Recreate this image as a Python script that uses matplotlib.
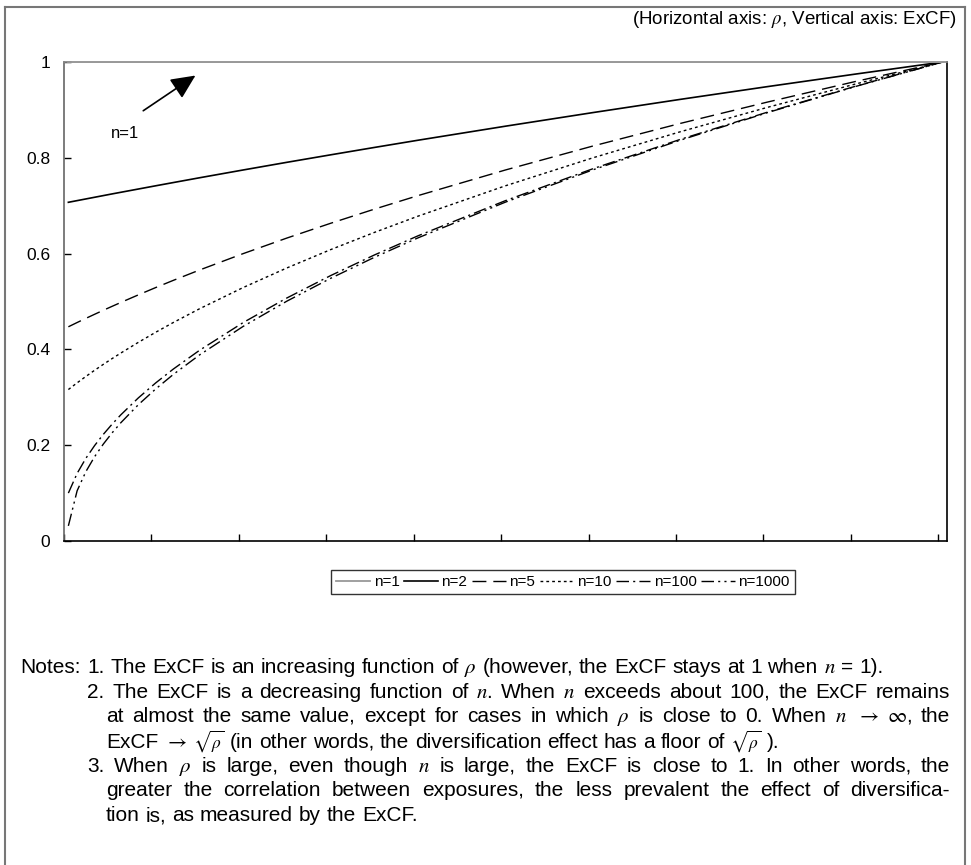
import numpy as np
import matplotlib
matplotlib.use("Agg")
import matplotlib.pyplot as plt
from matplotlib.lines import Line2D

plt.rcParams['font.family'] = ['Liberation Sans', 'DejaVu Sans']
plt.rcParams['mathtext.fontset'] = 'stix'

rho = [0, 0.01, 0.02, 0.03, 0.04, 0.05, 0.06, 0.08, 0.1, 0.12, 0.15, 0.2,
       0.25, 0.3, 0.35, 0.4, 0.5, 0.6, 0.7, 0.8, 0.9, 1.0]

excf_n1 = [1.0] * 22
excf_n2 = [0.7071, 0.7106, 0.7141, 0.7176, 0.7211, 0.7246, 0.7280, 0.7348, 0.7416, 0.7483, 0.7583,
           0.7746, 0.7906, 0.8062, 0.8216, 0.8367, 0.8660, 0.8944, 0.9220, 0.9487, 0.9747, 1.0]
excf_n5 = [0.4472, 0.4561, 0.4648, 0.4733, 0.4817, 0.4899, 0.4980, 0.5138, 0.5292, 0.5441, 0.5657,
           0.6000, 0.6325, 0.6633, 0.6928, 0.7211, 0.7746, 0.8246, 0.8718, 0.9165, 0.9592, 1.0]
excf_n10 = [0.3162, 0.3302, 0.3435, 0.3564, 0.3688, 0.3808, 0.3924, 0.4147, 0.4359, 0.4561, 0.4848,
            0.5292, 0.5701, 0.6083, 0.6442, 0.6782, 0.7416, 0.8000, 0.8544, 0.9055, 0.9539, 1.0]
excf_n100 = [0.1000, 0.1411, 0.1726, 0.1992, 0.2227, 0.2439, 0.2634, 0.2987, 0.3302, 0.3589, 0.3981,
             0.4561, 0.5074, 0.5541, 0.5971, 0.6372, 0.7106, 0.7772, 0.8385, 0.8955, 0.9492, 1.0]
excf_n1000 = [0.0316, 0.1048, 0.1448, 0.1760, 0.2024, 0.2257, 0.2469, 0.2845, 0.3176, 0.3477, 0.3884,
              0.4481, 0.5008, 0.5484, 0.5922, 0.6329, 0.7075, 0.7749, 0.8368, 0.8945, 0.9487, 1.0]

labels = ['n=1', 'n=2', 'n=5', 'n=10', 'n=100', 'n=1000']
yticks = [0, 0.2, 0.4, 0.6, 0.8, 1]
ytick_labels = ['0', '0.2', '0.4', '0.6', '0.8', '1']

W, H = 971, 865
fig = plt.figure(figsize=(W / 100, H / 100), dpi=100)

# excel-like category axis: 101 categories (rho = 0.00 .. 1.00), points in the middle
ax = fig.add_axes([64 / W, (H - 541) / H, 883 / W, 479 / H])
xs = [r * 100 + 0.5 for r in rho]

ax.plot(xs, excf_n1, color='#999999', lw=1.3, label=labels[0], zorder=5)
ax.plot(xs, excf_n2, color='black', lw=1.2, label=labels[1])
ax.plot(xs, excf_n5, color='black', lw=1.0, dashes=(10, 5), label=labels[2])
ax.plot(xs, excf_n10, color='black', lw=1.0, dashes=(2, 2.2), label=labels[3])
ax.plot(xs, excf_n100, color='black', lw=1.0, dashes=(9, 3, 1.5, 3), label=labels[4])
ax.plot(xs, excf_n1000, color='black', lw=1.0, dashes=(9, 3, 1.5, 3, 1.5, 3), label=labels[5])

ax.set_xlim(0, 101)
ax.set_ylim(0, 1)
ax.set_xticks(range(0, 101, 10))
ax.set_xticklabels([])
ax.set_yticks(yticks)
ax.set_yticklabels(ytick_labels, fontsize=12.5)
ax.tick_params(direction='in', length=5, width=1, pad=10, colors='black')

ax.spines['left'].set_color('#666666')
ax.spines['top'].set_color('#888888')
ax.spines['bottom'].set_color('black')
ax.spines['right'].set_color('black')
for s in ax.spines.values():
    s.set_linewidth(1.2)

ax.annotate('', xy=(15.3, 0.975), xytext=(8.8, 0.895),
            arrowprops=dict(arrowstyle='-|>,head_length=1.5,head_width=0.7', color='black', lw=1.2))
ax.text(5.4, 0.85, 'n=1', fontsize=12, ha='left', va='center')

leg = fig.legend(loc='center', bbox_to_anchor=(563 / W, 1 - 582 / H), ncol=6, fontsize=11,
                 frameon=True, fancybox=False, edgecolor='black', handlelength=2.2,
                 handletextpad=0.25, columnspacing=0.3, borderpad=0.35, borderaxespad=0)
leg.get_frame().set_linewidth(1.0)

fig.text(957 / W, 1 - 19 / H, r'(Horizontal axis: $\rho$, Vertical axis: ExCF)', fontsize=13.5,
         ha='right', va='center')

# outer frame
for xx, yy in [([5, 5], [7, H]), ([5, 965], [7, 7]), ([965, 965], [7, H])]:
    fig.add_artist(Line2D([x / W for x in xx], [1 - y / H for y in yy], color='#777777', lw=1.5))

# notes, justified word by word
fs = 15
fig.canvas.draw()
rend = fig.canvas.get_renderer()


def put_line(words, x0, ypix, x1=None):
    ts = []
    for w in words:
        size = fs - 2.5 if 'sqrt' in w else fs
        ts.append(fig.text(0, 1 - ypix / H, w, fontsize=size, va='baseline', ha='left'))
    ws = [t.get_window_extent(rend).width for t in ts]
    gap = fs * 1.389 * 0.28
    if x1 is not None and len(words) > 1:
        gap = (x1 - x0 - sum(ws)) / (len(words) - 1)
    x = x0
    for t, w in zip(ts, ws):
        t.set_x(x / W)
        x += w + gap


fig.text(20 / W, 1 - 673 / H, 'Notes:', fontsize=fs, va='baseline', ha='left')
right = 950
lines = [
    (87, r"1. The ExCF is an increasing function of $\rho$ (however, the ExCF stays at 1 when $n$ = 1).", False),
    (87, r"2. The ExCF is a decreasing function of $n$. When $n$ exceeds about 100, the ExCF remains", True),
    (106, r"at almost the same value, except for cases in which $\rho$ is close to 0. When $n$ $\rightarrow$ $\infty$, the", True),
    (106, r"ExCF $\rightarrow$ $\sqrt{\rho}$ (in other words, the diversification effect has a floor of $\sqrt{\rho}$ ).", False),
    (87, r"3. When $\rho$ is large, even though $n$ is large, the ExCF is close to 1. In other words, the", True),
    (106, r"greater the correlation between exposures, the less prevalent the effect of diversifica-", True),
    (106, r"tion is, as measured by the ExCF.", False),
]
ys = [673, 697.5, 721.5, 747.5, 772, 796.5, 821]
for (x0, txt, just), yy in zip(lines, ys):
    put_line(txt.split(' '), x0, yy, right if just else None)

fig.savefig('out.png', dpi=100)
